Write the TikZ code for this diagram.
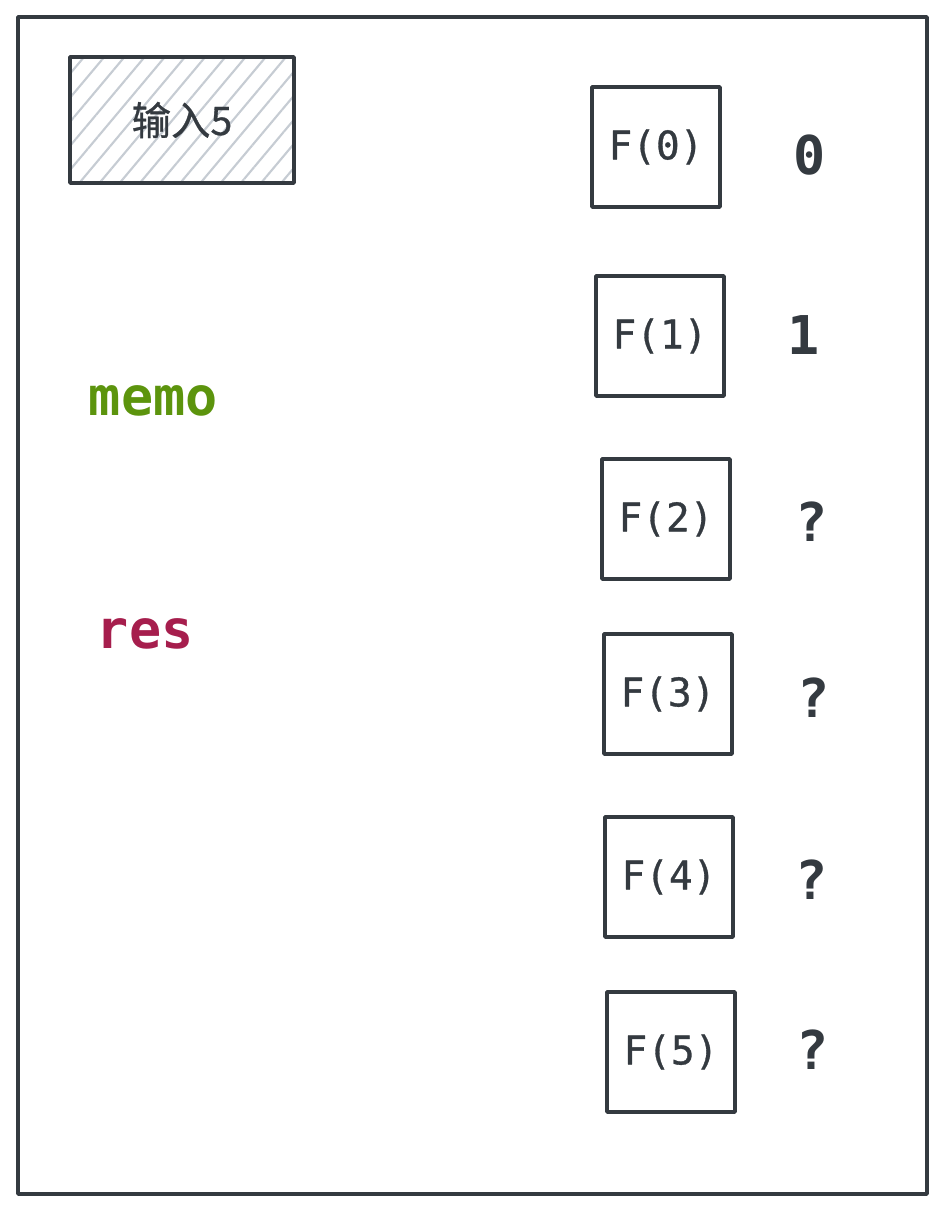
\documentclass[tikz,border=0pt]{standalone}
\usepackage{fontspec}
\setmonofont{DejaVu Sans Mono}
\newfontfamily\cjk[FakeBold=0.8]{Noto Sans CJK SC}
\newfontfamily\fmono[FakeBold=0.8]{DejaVu Sans Mono}
\usetikzlibrary{patterns.meta}

\definecolor{ink}{HTML}{343A40}
\definecolor{hatch}{HTML}{C6CCD3}
\definecolor{memogreen}{HTML}{5C940D}
\definecolor{resred}{HTML}{A61E4D}

\begin{document}
\begin{tikzpicture}[x=0.025cm,y=-0.025cm,line cap=round,line join=round,
	fbox/.style={draw=ink,line width=2.4pt,minimum width=3.2cm,minimum height=3cm,
		text=ink,font=\fmono\fontsize{28}{32}\selectfont},
	val/.style={text=ink,font=\ttfamily\bfseries\fontsize{38}{44}\selectfont},
	word/.style={font=\ttfamily\bfseries\fontsize{38}{44}\selectfont,anchor=base west}]
	
	% ---- 画布 ----
	\useasboundingbox (0,0) rectangle (948,1216);
	\fill[white] (0,0) rectangle (948,1216);
	\draw[ink,line width=2.6pt] (18,17) -- (927,17) -- (927,1194) -- (18,1194) -- cycle;
	
	% ---- 输入 ----
	\node[draw=ink,line width=2.6pt,minimum width=5.6cm,minimum height=3.15cm,
	pattern={Lines[angle=50,distance=11pt,line width=1.5pt]},pattern color=hatch,
	text=ink,font=\cjk\fontsize{28}{32}\selectfont]
	(input) at (182,120) {输入5};
	
	% ---- memo / res ----
	\node[word,text=memogreen] (memo) at (84,415) {memo};
	\node[word,text=resred] (res) at (92,648) {res};
	
	% ---- F(n) ----
	\node[fbox] (f0) at (656,147) {F(0)};
	\node[fbox] (f1) at (660,336) {F(1)};
	\node[fbox] (f2) at (666,519) {F(2)};
	\node[fbox] (f3) at (668,694) {F(3)};
	\node[fbox] (f4) at (669,877) {F(4)};
	\node[fbox] (f5) at (671,1052) {F(5)};
	
	% ---- 值 ----
	\node[val] (v0) at (810,155) {0};
	\node[val] (v1) at (804,335) {1};
	\node[val] (v2) at (812,522) {?};
	\node[val] (v3) at (814,698) {?};
	\node[val] (v4) at (812,880) {?};
	\node[val] (v5) at (813,1050) {?};
	
\end{tikzpicture}
\end{document}
